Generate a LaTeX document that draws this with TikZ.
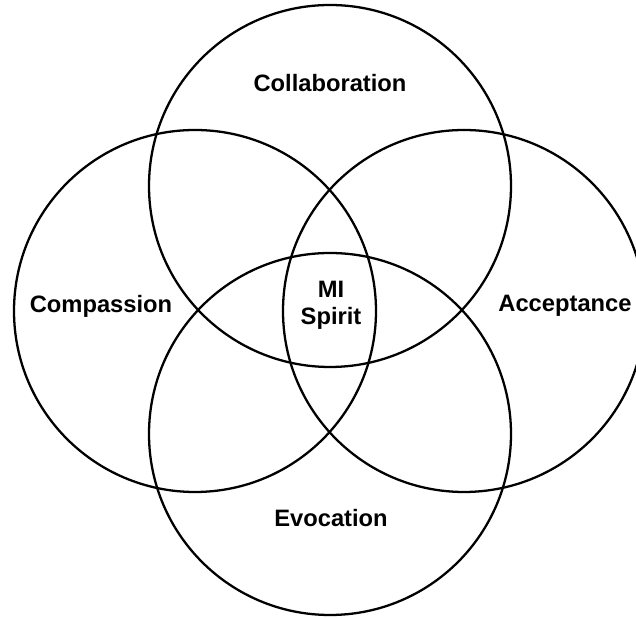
\documentclass[tikz,border=0pt]{standalone}
\usepackage{fontspec}
\setmainfont{Liberation Sans}

\tikzset{
    ring/.style={draw=black, line width=1.3pt},
    label/.style={font=\fontsize{13.5}{15.5}\selectfont\bfseries, align=center, inner sep=0pt}
}

\begin{document}
\begin{tikzpicture}[x=0.02cm,y=0.02cm]

\def\rad{181}

\useasboundingbox (0,0) rectangle (636,618);

\foreach \x/\y in {330/432, 195/307, 464/307, 330/184}
{
    \draw[ring] (\x,\y) circle (\rad);
}

\node[label] (collab) at (330,535) {Collaboration};
\node[label] (compass) at (101,312) {Compassion};
\node[label] (accept) at (565,312) {Acceptance};
\node[label] (spirit) at (331,313) {MI\\Spirit};
\node[label] (evoc) at (331,100) {Evocation};

\end{tikzpicture}
\end{document}
